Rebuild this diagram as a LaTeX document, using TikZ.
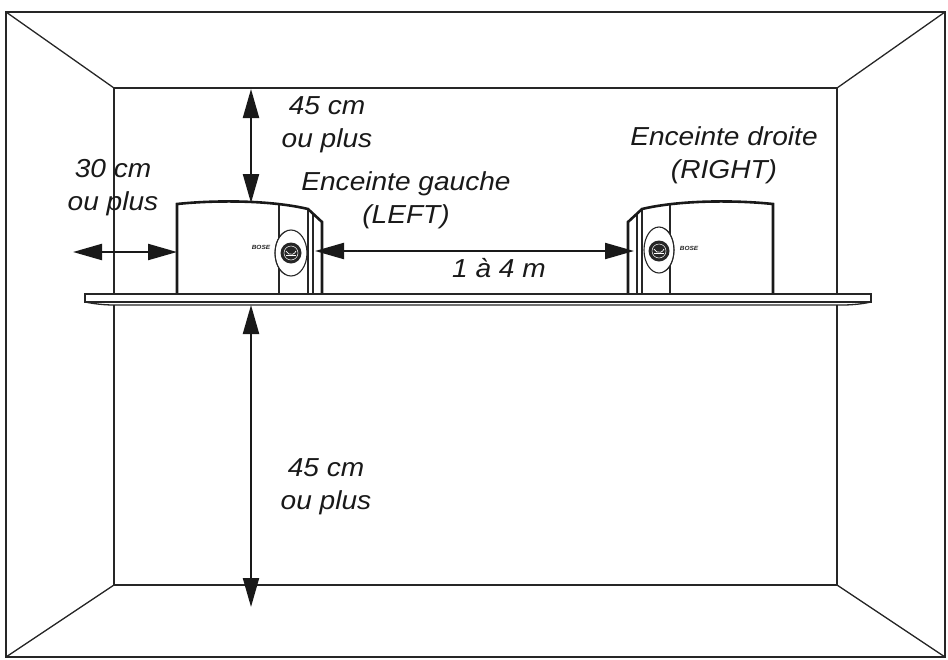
\documentclass[tikz,border=0pt]{standalone}
\usepackage{fontspec}
\setmainfont[FakeStretch=1.08]{Liberation Sans}
\usetikzlibrary{arrows.meta}
\tikzset{
	wall/.style={line width=1.3pt,draw=black!85},
	dimline/.style={line width=2.2pt,draw=black!90,{Triangle[length=29pt,width=16pt]}-{Triangle[length=29pt,width=16pt]}},
	cabinet/.style={line width=2.6pt,draw=black!90},
	trim/.style={line width=1.1pt,draw=black!85},
	lbl/.style={font=\fontsize{26}{33}\selectfont\itshape,align=center,inner sep=0pt,text=black!90},
	logo/.style={font=\fontsize{6}{6}\selectfont\bfseries\itshape,inner sep=0pt,text=black!85},
}
\begin{document}
\begin{tikzpicture}[x=1pt,y=-1pt]
		\useasboundingbox (0,0) rectangle (948,659);
		% room
		\draw[wall] (6,12) rectangle (945,657);
		\draw[wall] (114,88) rectangle (837,585);
		\draw[wall] (6,12) -- (114,88);
		\draw[wall] (945,12) -- (837,88);
		\draw[wall] (6,657) -- (114,585);
		\draw[wall] (945,657) -- (837,585);
		%
		% shelf
		\fill[white] (85,294) rectangle (871,305);
		\draw[line width=1.3pt,draw=black!85] (85,294) -- (871,294) -- (871,302) -- (85,302) -- cycle;
		\draw[line width=1.3pt,draw=black!85] (85,302) .. controls (95,304) and (105,305) .. (114,305) -- (842,305) .. controls (852,305) and (862,304) .. (871,302);
		%
		% left speaker
		\draw[trim] (279,205) -- (279,293);
		\draw[trim] (308,209) -- (308,293);
		\draw[trim] (313,214) -- (313,293);
		\draw[cabinet] (177,293) -- (177,204) .. controls (215,200) and (270,200) .. (308,209) -- (322,222) -- (322,293);
		\fill[white] (291,253) ellipse (16 and 23);
		\draw[trim] (291,253) ellipse (16 and 23);
		\draw[line width=.8pt,draw=black!85] (275,253) arc[start angle=180,end angle=105,x radius=14,y radius=22];
		\draw[line width=.8pt,draw=black!85] (275,253) arc[start angle=180,end angle=255,x radius=14,y radius=22];
		\fill[black!85] (291,253) circle (10.5);
		\draw[white,line width=.5pt] (291,253) circle (7);
		\draw[white,line width=.7pt] (286,251) arc[start angle=160,end angle=20,radius=5.3];
		\draw[white,line width=.7pt] (286,255) -- (296,255);
		\node[logo] (logol) at (261,247) {BOSE};
		%
		% right speaker
		\draw[trim] (670,205) -- (670,293);
		\draw[trim] (642,209) -- (642,293);
		\draw[trim] (637,214) -- (637,293);
		\draw[cabinet] (773,293) -- (773,204) .. controls (735,200) and (680,200) .. (642,209) -- (628,222) -- (628,293);
		\fill[white] (659,250) ellipse (15 and 23);
		\draw[trim] (659,250) ellipse (15 and 23);
		\draw[line width=.8pt,draw=black!85] (674,250) arc[start angle=0,end angle=75,x radius=13,y radius=22];
		\draw[line width=.8pt,draw=black!85] (674,250) arc[start angle=0,end angle=-75,x radius=13,y radius=22];
		\fill[black!85] (659,251) circle (10.5);
		\draw[white,line width=.5pt] (659,251) circle (7);
		\draw[white,line width=.7pt] (654,249) arc[start angle=160,end angle=20,radius=5.3];
		\draw[white,line width=.7pt] (654,253) -- (664,253);
		\node[logo] (logor) at (689,248) {BOSE};
		%
		% arrow ends
		\coordinate (ceil) at (251,89);
		\coordinate (spktop) at (251,203);
		\coordinate (wallout) at (73,252);
		\coordinate (spkleft) at (177,252);
		\coordinate (spka) at (315,251);
		\coordinate (spkb) at (634,251);
		\coordinate (shelfb) at (251,305);
		\coordinate (floor) at (251,607);
		\draw[dimline] (ceil) -- (spktop);
		\draw[dimline] (wallout) -- (spkleft);
		\draw[dimline] (spka) -- (spkb);
		\draw[dimline] (shelfb) -- (floor);
		%
		\node[lbl] (ltop) at (327,125) {45 cm\\ou plus};
		\node[lbl] (lside) at (113,188) {30 cm\\ou plus};
		\node[lbl] (lgauche) at (406,200) {Enceinte gauche\\(LEFT)};
		\node[lbl] (ldroite) at (724,155) {Enceinte droite\\(RIGHT)};
		\node[lbl] (ldist) at (499,268) {1 à 4 m};
		\node[lbl] (lbot) at (326,487) {45 cm\\ou plus};
		%
		\end{tikzpicture}
\end{document}
